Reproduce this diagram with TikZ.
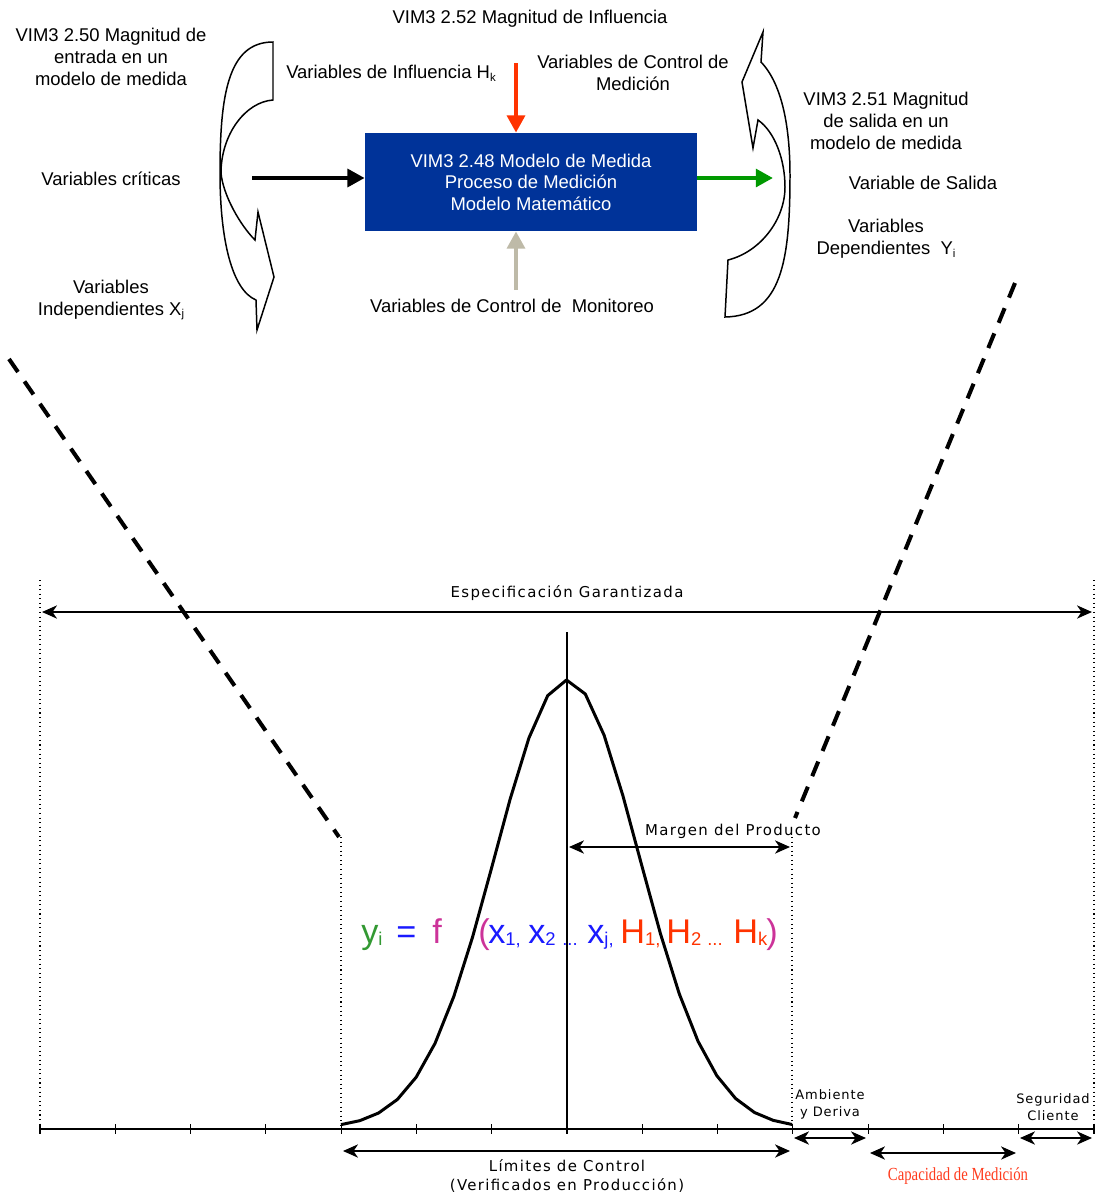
\documentclass[tikz,border=0pt]{standalone}
\usepackage{fontspec}
\setmainfont{Liberation Sans}
\newfontfamily\labfont[LetterSpace=9]{DejaVu Sans}
\newfontfamily\slabfont[LetterSpace=7]{DejaVu Sans}
\newfontfamily\capfont{Liberation Serif}
\usetikzlibrary{arrows.meta,calc}
\definecolor{boxblue}{RGB}{0,51,153}
\definecolor{infred}{RGB}{255,51,0}
\definecolor{outgreen}{RGB}{0,153,0}
\definecolor{beige}{RGB}{190,186,168}
\definecolor{fgreen}{RGB}{51,153,51}
\definecolor{fblue}{RGB}{26,26,255}
\definecolor{fmag}{RGB}{204,51,153}
\definecolor{capred}{RGB}{255,60,30}
\newcommand\smsub[1]{\raisebox{-1.6pt}{\fontsize{6.5}{6.5}\selectfont #1}}
\newcommand\fsub[1]{\raisebox{-1.4pt}{\fontsize{10.5}{10.5}\selectfont #1}}
\begin{document}
\begin{tikzpicture}[x=0.02cm,y=-0.02cm,
  txt/.style={font=\fontsize{10.5}{12.5}\selectfont, align=center, inner sep=0pt},
  lab/.style={font=\labfont\fontsize{8.5}{11.3}\selectfont, align=center, inner sep=0pt},
  slab/.style={font=\slabfont\fontsize{7.4}{9.6}\selectfont, align=center, inner sep=0pt},
  fat/.style={line width=2.8pt, -{Triangle[length=9.8pt,width=10pt]}},
  bshape/.style={draw, line width=0.85pt, line join=miter},
  dimarrow/.style={line width=1pt, {Stealth[length=8.5pt,width=7.5pt,inset=2.5pt]}-{Stealth[length=8.5pt,width=7.5pt,inset=2.5pt]}},
  dashline/.style={line width=2.3pt, dash pattern=on 9pt off 6.5pt},
  vdot/.style={line width=0.6pt, dotted},
  fml/.style={font=\fontsize{19.5}{19.5}\selectfont, anchor=base west, inner sep=0pt}]
\useasboundingbox (0,0) rectangle (1098,1194);

% ---------- top block ----------
\node[fill=boxblue, minimum width=6.64cm, minimum height=1.96cm, inner sep=0pt,
  text=white, font=\fontsize{10.5}{12.2}\selectfont, align=center] (box) at (531,182)
  {VIM3 2.48 Modelo de Medida\\Proceso de Medición\\Modelo Matemático};

\node[txt] (n252) at (530,19) {VIM3 2.52 Magnitud de Influencia};
\node[txt] (n250) at (111,57) {VIM3 2.50 Magnitud de\\entrada en un\\modelo de medida};
\node[txt] (ninf) at (391,73) {Variables de Influencia H\smsub{k}};
\node[txt] (nctl) at (633,73) {Variables de Control de\\Medición};
\node[txt] (ncrit) at (111,179) {Variables críticas};
\node[txt] (nind) at (111,300) {Variables\\Independientes X\smsub{j}};
\node[txt] (nmon) at (512,306) {Variables de Control de\ \ Monitoreo};
\node[txt] (n251) at (886,121) {VIM3 2.51 Magnitud\\de salida en un\\modelo de medida};
\node[txt] (nsal) at (923,183) {Variable de Salida};
\node[txt] (ndep) at (886,239) {Variables\\Dependientes\ \ Y\smsub{i}};

\coordinate (ain) at (252,178);
\coordinate (gout) at (773,178);
\coordinate (rin) at (516,63);
\coordinate (bin) at (516,290);
\draw[fat, black] (ain) -- (ain -| box.west);
\draw[fat, outgreen] (gout -| box.east) -- (gout);
\draw[fat, infred] (rin) -- (rin |- box.north);
\draw[fat, beige] (bin) -- (bin |- box.south);

% left curved arrow
\draw[bshape] (273,42) -- (273,100)
  .. controls (245,102) and (221,135) .. (221,173)
  .. controls (223,195) and (240,225) .. (255,240)
  -- (258,212) -- (274,277) -- (257,330) -- (256,300)
  .. controls (232,290) and (220,240) .. (220,173)
  .. controls (220,95) and (228,42) .. (273,42) -- cycle;

% right curved arrow
\draw[bshape] (763,32) -- (761,62)
  .. controls (783,85) and (790,130) .. (790,175)
  .. controls (790,260) and (782,316) .. (725,317)
  -- (728,260)
  .. controls (760,252) and (785,220) .. (785,187)
  .. controls (785,160) and (775,132) .. (758,120)
  -- (753,148) -- (742,82) -- cycle;

% dashed lines
\draw[dashline] (9,359) -- (339,837);
\draw[dashline] (1015,283) -- (795,818);

% ---------- bottom chart ----------
\draw[vdot] (40,580) -- (40,1129);
\draw[vdot] (1094,580) -- (1094,1129);
\draw[vdot] (341,837) -- (341,1129);
\draw[vdot] (792,837) -- (792,1129);
\draw[line width=0.6pt] (567,632) -- (567,1129);
\draw[line width=0.6pt] (40,1129) -- (1094,1129);
\foreach \i in {0,...,14} \draw[line width=0.6pt] ({40+75.286*\i},1124) -- ++(0,10);

\draw[line width=1.7pt, line join=round]
  plot[domain=341:792, samples=25] (\x, {1128-448*exp(-0.5*((\x-567)/72.3)^2)});

% dimension arrows
\coordinate (e1) at (42,612);  \coordinate (e2) at (1092,612);
\coordinate (m1) at (569,847); \coordinate (m2) at (790,847);
\coordinate (l1) at (343,1151); \coordinate (l2) at (790,1151);
\coordinate (a1) at (794,1138); \coordinate (a2) at (866,1138);
\coordinate (c1) at (870,1153); \coordinate (c2) at (1016,1153);
\coordinate (s1) at (1020,1138); \coordinate (s2) at (1092,1138);
\draw[dimarrow] (e1) -- (e2);
\draw[dimarrow] (m1) -- (m2);
\draw[dimarrow] (l1) -- (l2);
\draw[dimarrow] (a1) -- (a2);
\draw[dimarrow] (c1) -- (c2);
\draw[dimarrow] (s1) -- (s2);

\node[lab] (tesp) at (567,593) {Especificación Garantizada};
\node[lab] (tmar) at (733,831) {Margen del Producto};
\node[lab] (tlim) at (567,1176) {Límites de Control\\(Verificados en Producción)};
\node[slab] (tamb) at (830,1104) {Ambiente\\y Deriva};
\node[slab] (tseg) at (1053,1107) {Seguridad\\Cliente};
\node[inner sep=0pt, text=capred, font=\capfont\fontsize{10.5}{10.5}\selectfont, xscale=0.8] (tcap) at (958,1176) {Capacidad de Medición};

% formula
\node[fml, text=fgreen] (fy) at (361,943) {y\fsub{i}};
\node[fml, text=fblue] (feq) at (396,943) {=};
\node[fml, text=fmag] (ff) at (432,943) {f};
\node[fml, text=fmag] (fpl) at (478,943) {(};
\node[fml, text=fblue] (fx1) at (488,943) {x\fsub{1,}};
\node[fml, text=fblue] (fx2) at (528,943) {x\fsub{2}};
\node[fml, text=fblue] (fd1) at (562,943) {\fsub{...}};
\node[fml, text=fblue] (fxj) at (587,943) {x\fsub{j,}};
\node[fml, text=infred] (fh1) at (620,943) {H\fsub{1,}};
\node[fml, text=infred] (fh2) at (666,943) {H\fsub{2}};
\node[fml, text=infred] (fd2) at (707,943) {\fsub{...}};
\node[fml, text=infred] (fhk) at (733,943) {H\fsub{k}};
\node[fml, text=fmag] (fpr) at (766,943) {)};
\end{tikzpicture}
\end{document}
